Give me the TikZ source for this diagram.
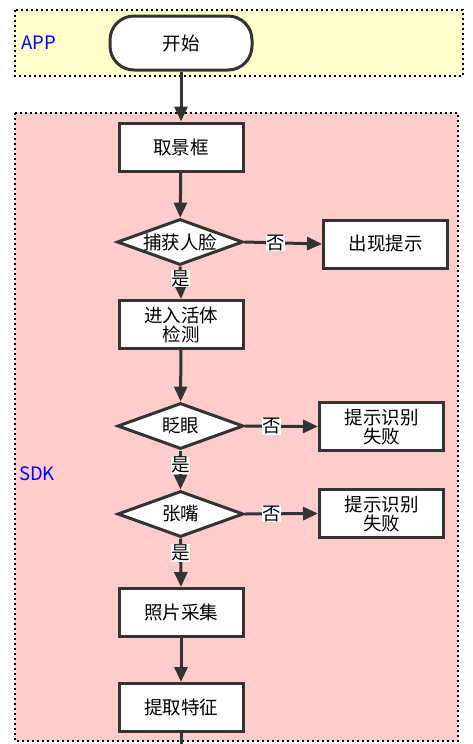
\documentclass[tikz,border=0pt]{standalone}
\usepackage{fontspec}
\setmainfont{Noto Sans CJK SC}
\usetikzlibrary{shapes.geometric,arrows.meta}
\definecolor{appfill}{HTML}{FFFFCC}
\definecolor{sdkfill}{HTML}{FFCCCC}
\definecolor{ink}{HTML}{333333}
\definecolor{lanelabel}{HTML}{0000FF}
\tikzset{
  lane/.style={draw=black, line width=2pt, dash pattern=on 2pt off 3pt},
  stepbox/.style={draw=ink, fill=white, line width=3pt, minimum width=124pt, minimum height=48pt, inner sep=0pt, font=\fontsize{18.5pt}{22pt}\selectfont, align=center},
  termbox/.style={draw=ink, fill=white, line width=3pt, rounded corners=24pt, minimum width=142pt, minimum height=54pt, inner sep=0pt, font=\fontsize{18.5pt}{22pt}\selectfont},
  decide/.style={diamond, draw=ink, fill=white, line width=3pt, minimum width=126pt, minimum height=46pt, inner sep=0pt, font=\fontsize{18.5pt}{22pt}\selectfont},
  flow/.style={draw=ink, line width=3pt, -{Triangle[length=15pt,width=13pt]}},
  plain/.style={draw=ink, line width=3pt},
  edgelabel/.style={fill=white, inner sep=0.5pt, font=\fontsize{18.5pt}{22pt}\selectfont},
  lanetext/.style={text=lanelabel, font=\fontsize{18.5pt}{22pt}\selectfont, inner sep=0pt, anchor=west}
}
\begin{document}
\begin{tikzpicture}[x=1pt,y=-1pt]
\useasboundingbox (0,0) rectangle (472,744);
% lanes
\fill[appfill] (15,10) rectangle (463,76);
\draw[lane] (15,10) rectangle (463,76);
\fill[sdkfill] (15,113) rectangle (458,741);
\draw[lane] (15,113) rectangle (458,741);
\node[lanetext] (applabel) at (21,43) {APP};
\node[lanetext] (sdklabel) at (19,474) {SDK};
% nodes
\node[termbox] (start) at (181,43) {开始};
\node[stepbox] (frame) at (181,147) {取景框};
\node[decide] (face) at (180,242) {\makebox[0pt]{捕获人脸}};
\node[stepbox] (hint) at (385.5,244) {出现提示};
\node[stepbox] (live) at (181,324.5) {进入活体\\[-3pt]检测};
\node[decide] (blink) at (180.5,426) {\makebox[0pt]{眨眼}};
\node[stepbox] (fail1) at (381.5,426.5) {提示识别\\[-3pt]失败};
\node[decide] (mouth) at (180.5,514) {\makebox[0pt]{张嘴}};
\node[stepbox] (fail2) at (381.5,513.5) {提示识别\\[-3pt]失败};
\node[stepbox] (photo) at (181,612.5) {照片采集};
\node[stepbox] (feat) at (181,707.5) {提取特征};
\coordinate (out) at (181,744);
% connectors
\draw[flow] (start) -- (frame);
\draw[flow] (frame) -- (face);
\draw[flow] (face.east) -- node[edgelabel, pos=0.4] {否} (hint.west);
\draw[flow] (face.south) -- node[edgelabel, pos=0.38] {是} (live.north);
\draw[flow] (live) -- (blink);
\draw[flow] (blink.east) -- node[edgelabel, pos=0.36] {否} (fail1.west);
\draw[flow] (blink.south) -- node[edgelabel, pos=0.38] {是} (mouth.north);
\draw[flow] (mouth.east) -- node[edgelabel, pos=0.36] {否} (fail2.west);
\draw[flow] (mouth.south) -- node[edgelabel, pos=0.3] {是} (photo.north);
\draw[flow] (photo) -- (feat);
\draw[plain] (feat.south) -- (out);
\end{tikzpicture}
\end{document}
